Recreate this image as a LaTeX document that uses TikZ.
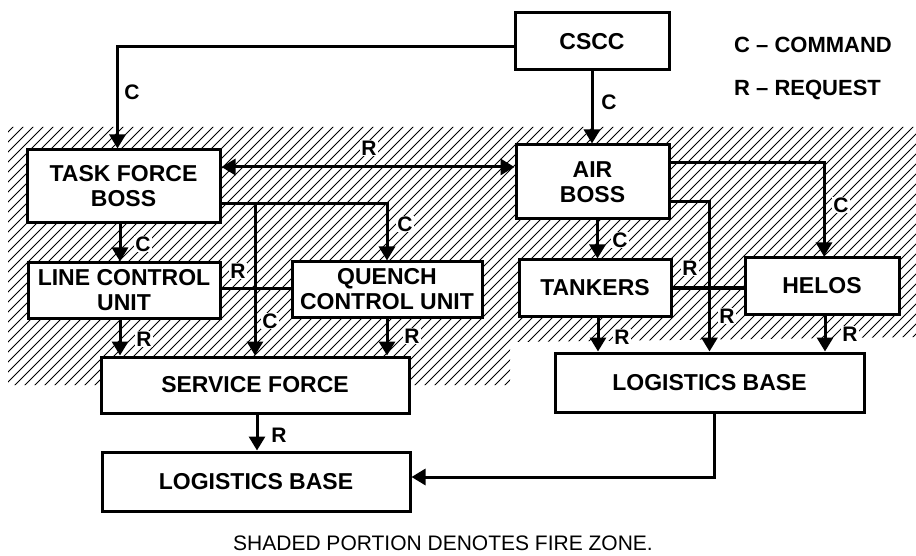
\documentclass[tikz,border=0pt]{standalone}
\usepackage{fontspec}
\setmainfont{Liberation Sans}
\usetikzlibrary{arrows.meta}
\begin{document}
\begin{tikzpicture}[x=1pt,y=-1pt,
  box/.style={draw,line width=3pt,fill=white,inner sep=0pt,align=center,font=\fontsize{23}{25}\selectfont\bfseries},
  conn/.style={line width=3pt},
  arr/.style={conn,-{Triangle[width=16pt,length=14pt]}},
  darr/.style={conn,{Triangle[width=16pt,length=14pt]}-{Triangle[width=16pt,length=14pt]}},
  lbl/.style={font=\fontsize{21}{21}\selectfont\bfseries,fill=white,inner sep=1pt},
  legend/.style={font=\fontsize{22}{22}\selectfont\bfseries,anchor=west,inner sep=0pt},
  hatch/.style={line width=0.9pt}
]
\useasboundingbox (0,0) rectangle (916,556);

% fire zone hatching
\begin{scope}
\clip (8,127) -- (916,127) -- (916,337) -- (510,342) -- (510,385) -- (8,385) -- cycle;
\foreach \i in {-300,-290,...,930} \draw[hatch] (\i,390) -- ({\i+270},120);
\end{scope}

% boxes
\node[box,minimum width=154pt,minimum height=57pt] (cscc) at (592,41.5) {CSCC};
\node[box,minimum width=193pt,minimum height=73pt] (tfb) at (123.5,186.5) {TASK FORCE\\BOSS};
\node[box,minimum width=153pt,minimum height=74pt] (ab) at (592.5,182) {AIR\\BOSS};
\node[box,minimum width=192pt,minimum height=55pt] (lcu) at (124,290.5) {LINE CONTROL\\UNIT};
\node[box,minimum width=190pt,minimum height=55pt] (qcu) at (387,289.5) {QUENCH\\CONTROL UNIT};
\node[box,minimum width=152pt,minimum height=56pt] (tk) at (595,288) {TANKERS};
\node[box,minimum width=154pt,minimum height=56pt] (hl) at (822,286) {HELOS};
\node[box,minimum width=308pt,minimum height=56pt] (sf) at (255,385) {SERVICE FORCE};
\node[box,minimum width=309pt,minimum height=59pt] (lb2) at (709.5,382.5) {LOGISTICS BASE};
\node[box,minimum width=308pt,minimum height=59pt] (lb1) at (256,481.5) {LOGISTICS BASE};

% connectors
\draw[arr] ([yshift=-5pt]cscc.west) -| ([xshift=-6pt]tfb.north);
\draw[arr] (cscc.south) -- (cscc.south |- ab.north);
\draw[darr] ([yshift=19.5pt]tfb.east) -- ([yshift=19.5pt]tfb.east -| ab.west);
\coordinate (tfbr) at ([yshift=-17.5pt]tfb.east);
\draw[arr] (tfbr) -| (qcu.north);
\draw[arr] (tfbr -| sf.north) -- (sf.north);
\draw[arr] ([xshift=-4pt]lcu.north |- tfb.south) -- ([xshift=-4pt]lcu.north);
\draw[conn] ([yshift=2pt]lcu.east) -- ([yshift=2pt]lcu.east -| qcu.west);
\draw[arr] ([xshift=-4pt]lcu.south) -- ([xshift=-4pt]lcu.south |- sf.north);
\draw[arr] (qcu.south) -- (qcu.south |- sf.north);
\draw[arr] ([xshift=2pt]sf.south) -- ([xshift=2pt]sf.south |- lb1.north);
\draw[arr] ([xshift=5pt]ab.south) -- ([xshift=5pt]ab.south |- tk.north);
\draw[arr] ([yshift=-20pt]ab.east) -| (lb2.north);
\draw[arr] ([yshift=19pt]ab.east) -| ([xshift=2pt]hl.north);
\draw[conn] (tk.east) -- (tk.east -| hl.west);
\draw[arr] ([xshift=3pt]tk.south) -- ([xshift=3pt]tk.south |- lb2.north);
\draw[arr] ([xshift=3pt]hl.south) -- ([xshift=3pt]hl.south |- lb2.north);
\draw[arr] ([xshift=4.5pt]lb2.south) |- ([yshift=4.5pt]lb1.east);

% connector labels
\node[lbl] (c1) at (132,92) {C};
\node[lbl] (c2) at (609,102) {C};
\node[lbl] (r1) at (369,148) {R};
\node[lbl] (c3) at (143,244) {C};
\node[lbl] (c4) at (405,224) {C};
\node[lbl] (r2) at (238,271) {R};
\node[lbl] (c5) at (270,321) {C};
\node[lbl] (r3) at (144,339) {R};
\node[lbl] (r4) at (412,336) {R};
\node[lbl] (c6) at (620,240) {C};
\node[lbl] (c7) at (841,205) {C};
\node[lbl] (r5) at (690,268) {R};
\node[lbl] (r6) at (727,316) {R};
\node[lbl] (r7) at (622,337) {R};
\node[lbl] (r8) at (850,334) {R};
\node[lbl] (r9) at (279,435) {R};

% legend and caption
\node[legend] (legc) at (734,45) {C \textendash{} COMMAND};
\node[legend] (legr) at (734,90) {R \textendash{} REQUEST};
\node[font=\fontsize{21}{21}\selectfont] (cap) at (443,543) {SHADED PORTION DENOTES FIRE ZONE.};
\end{tikzpicture}
\end{document}
